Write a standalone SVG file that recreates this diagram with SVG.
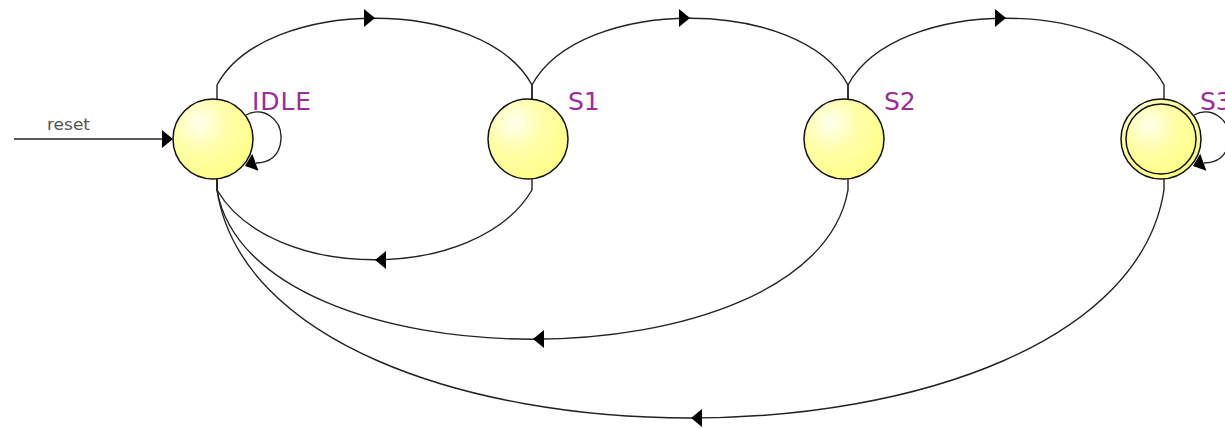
<svg xmlns="http://www.w3.org/2000/svg" xmlns:xlink="http://www.w3.org/1999/xlink" width="1225" height="428" viewBox="0 0 1225 428">
<style>
.edge{fill:none;stroke:#222;stroke-width:1.4}
.node{fill:url(#yg);stroke:#111;stroke-width:1.5}
.lbl{font-family:"DejaVu Sans",Verdana,sans-serif;font-size:25px;fill:#9B2D9B}
.ah{fill:#000}
.small{font-family:"DejaVu Sans",Verdana,sans-serif;font-size:15px;fill:#555}
</style>
<defs>
<radialGradient id="yg" cx="0.33" cy="0.3" r="0.8">
<stop offset="0" stop-color="#FFFFEE"/>
<stop offset="0.45" stop-color="#FFFFA8"/>
<stop offset="1" stop-color="#FFFF85"/>
</radialGradient>
<path id="arrR" d="M0,0 L-11,-9 L-11,9 Z"/>
<path id="arrL" d="M0,0 L11,-9 L11,9 Z"/>
</defs>
<rect width="1225" height="428" fill="#fff"/>
<g id="connectors">
<path class="edge" d="M14,139 H170"/>
<use href="#arrR" class="ah" x="173" y="139"/>
<text class="small" x="47" y="130" textLength="43" lengthAdjust="spacingAndGlyphs">reset</text>
<path class="edge" d="M217,99 V85 C265,-4 484,-4 532,85 V99"/>
<use href="#arrR" class="ah" x="375" y="18"/>
<path class="edge" d="M532,99 V85 C580,-4 800,-4 848,85 V99"/>
<use href="#arrR" class="ah" x="690" y="18"/>
<path class="edge" d="M848,99 V85 C896,-4 1116,-4 1164,85 V99"/>
<use href="#arrR" class="ah" x="1006" y="18"/>
<path class="edge" d="M532,179 V190 C477,283 272,283 217,190 V179"/>
<use href="#arrL" class="ah" x="375" y="260"/>
<path class="edge" d="M848,179 V190 C813,389 252,389 217,190 V179"/>
<use href="#arrL" class="ah" x="533" y="339"/>
<path class="edge" d="M1164,179 V190 C1117,494 264,494 217,190 V179"/>
<use href="#arrL" class="ah" x="691" y="418"/>
<path class="edge" d="M246,115 C262,106 282,118 281,139 C280,157 268,163 256,163"/>
<use href="#arrR" class="ah" transform="translate(245,166) rotate(160)"/>
<path class="edge" d="M1194,115 C1210,106 1230,118 1229,139 C1228,157 1216,163 1204,163"/>
<use href="#arrR" class="ah" transform="translate(1193,166) rotate(160)"/>
</g>
<g id="IDLE">
<circle class="node" cx="213" cy="139" r="40"/>
<text class="lbl" x="252" y="110" textLength="59">IDLE</text>
</g>
<g id="S1">
<circle class="node" cx="528" cy="139" r="40"/>
<text class="lbl" x="568" y="110">S1</text>
</g>
<g id="S2">
<circle class="node" cx="844" cy="139" r="40"/>
<text class="lbl" x="884" y="110">S2</text>
</g>
<g id="S3">
<circle class="node" cx="1161" cy="139" r="40"/>
<circle class="node" cx="1161" cy="139" r="35"/>
<text class="lbl" x="1200" y="110">S3</text>
</g>
</svg>
